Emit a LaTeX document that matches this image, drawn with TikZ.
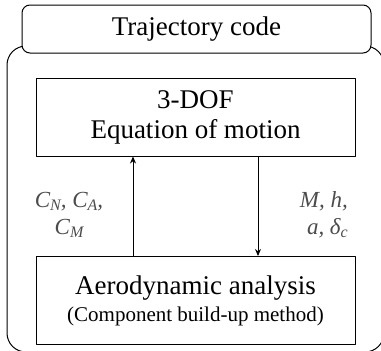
\documentclass[tikz,border=0pt]{standalone}
\usepackage{fontspec}
\setmainfont{Liberation Serif}
\usetikzlibrary{positioning,arrows.meta}
\tikzset{
  blockbox/.style={draw,line width=1pt,minimum width=319pt,align=center,inner sep=0pt},
  varlabel/.style={text=black!70,font=\fontsize{23}{27}\selectfont\itshape,inner sep=0pt}
}
\newcommand{\sbs}[1]{\raisebox{-3pt}{\fontsize{16}{16}\selectfont #1}}
\begin{document}
\begin{tikzpicture}[x=1pt,y=-1pt,line cap=round,line join=round,>={Stealth[length=7pt,width=6pt]},font=\fontsize{27}{30}\selectfont]
	\useasboundingbox (0,0) rectangle (381,351);
	% outer frame and tab
	\draw[line width=1pt,rounded corners=19pt] (7,46) rectangle (384,352);
	\node[draw,fill=white,line width=1pt,rounded corners=8pt,minimum width=349pt,minimum height=48pt,inner sep=0pt] (tab) at (196.5,29) {Trajectory code};
	% blocks
	\node[blockbox,minimum height=78pt] (eom) at (195.5,117) {3-DOF\\Equation of motion};
	\node[blockbox,minimum height=88pt] (aero) at (195.5,300.5) {Aerodynamic analysis\\[-3pt]{\fontsize{21}{24}\selectfont (Component build-up method)}};
	% connectors
	\draw[->,line width=1pt] (aero.north -| 133,0) -- (eom.south -| 133,0);
	\draw[->,line width=1pt] (eom.south -| 258,0) -- (aero.north -| 258,0);
	\node[varlabel,align=center] (coef) at (69,215) {C\sbs{N}, C\sbs{A},\\C\sbs{M}};
	\node[varlabel,align=right,anchor=east] (state) at (348,215) {M, h,\\a, δ\sbs{c}};
\end{tikzpicture}
\end{document}
